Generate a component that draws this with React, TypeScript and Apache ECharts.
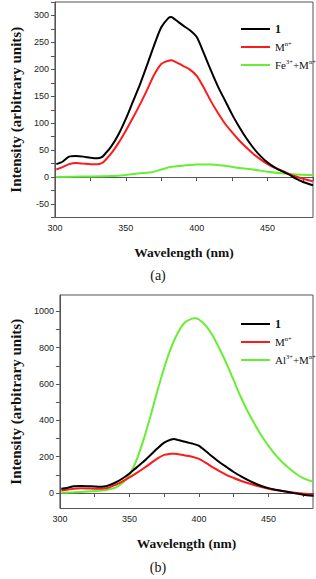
import React, { useEffect, useRef } from "react";
import * as echarts from "echarts";

// Shared wavelength grid (nm) for compound 1 and M^n+ spectra
const wavelength = [301, 305, 310, 315, 320, 325, 330, 333, 335, 340, 345, 350, 355, 360, 365, 370, 375, 380, 382, 385, 390, 395, 400, 405, 410, 415, 420, 425, 430, 435, 440, 445, 450, 455, 460, 465, 470, 475, 482];
const compound1 = [24, 28, 38, 39, 38, 36, 35, 37, 42, 58, 80, 108, 140, 172, 208, 245, 278, 295, 297, 292, 282, 273, 260, 230, 198, 168, 142, 116, 93, 72, 54, 39, 27, 18, 11, 5, -3, -9, -15];
const metalIon = [14, 18, 24, 26, 25, 24, 24, 26, 30, 45, 64, 86, 110, 135, 162, 190, 210, 216, 217, 214, 207, 200, 188, 166, 141, 119, 99, 83, 68, 55, 43, 33, 24, 17, 12, 6, 1, -3, -8];

// Fe3+ + M^n+ spectrum (panel a)
const feWavelength = [301, 320, 340, 350, 360, 368, 375, 382, 390, 400, 410, 420, 430, 440, 450, 460, 470, 482];
const feMix = [0, 1, 2, 4, 7, 9, 14, 19, 21, 23.5, 23.5, 21, 17, 14, 10, 7, 5, 4];

// Al3+ + M^n+ spectrum (panel b)
const alWavelength = [301, 310, 320, 330, 335, 340, 345, 350, 355, 360, 365, 370, 375, 380, 385, 390, 395, 397, 400, 405, 410, 415, 420, 425, 430, 435, 440, 445, 450, 455, 460, 465, 470, 475, 482];
const alMix = [2, 4, 8, 14, 20, 30, 55, 100, 180, 290, 420, 560, 690, 800, 885, 940, 960, 962, 955, 920, 865, 790, 710, 620, 530, 450, 380, 315, 260, 210, 170, 135, 105, 82, 62];

// Tick values for panel b
const bTicks = [0, 100, 200, 300, 400, 500, 600, 700, 800, 900, 1000];
const bLabels = [0, 200, 400, 600, 800, 1000];

const legendA = ["1", "Mn+", "Fe3++Mn+"];
const legendB = ["1", "Mn+", "Al3++Mn+"];
const panelLabels = ["(a)", "(b)"];

const xTitle = "Wavelength (nm)";
const yTitle = "Intensity (arbitrary units)";

const BLACK = "#000000";
const RED = "#ff1a1a";
const GREEN = "#66ee33";
const AXIS = "#555555";
const SERIF = "Liberation Serif";
const SANS = "Liberation Sans";

function pairs(xs: number[], ys: number[]) {
  return xs.map((x, i) => [x, ys[i]]);
}

function legendFormatter(name: string) {
  if (name === "1") return "{b|1}";
  if (name === "Mn+") return "M{s|n+}";
  if (name === "Fe3++Mn+") return "Fe{s|3+}+M{s|n+}";
  if (name === "Al3++Mn+") return "Al{s|3+}+M{s|n+}";
  return name;
}

function xAxisCfg(gridIndex: number) {
  return {
    type: "value",
    gridIndex,
    min: 300,
    max: 482,
    interval: 25,
    axisLine: { show: true, lineStyle: { color: AXIS, width: 1 } },
    axisTick: { show: true, inside: false, length: 4, lineStyle: { color: AXIS } },
    axisLabel: {
      fontSize: 9,
      fontFamily: SANS,
      color: "#222",
      margin: 6,
      formatter: (v: number) => (v % 50 === 0 ? String(v) : ""),
    },
    splitLine: { show: false },
    name: xTitle,
    nameLocation: "middle",
    nameGap: 28,
    nameTextStyle: { fontFamily: SERIF, fontWeight: "bold", fontSize: 13.5, color: "#111" },
  };
}

const yTitleStyle = { fontFamily: SERIF, fontWeight: "bold", fontSize: 15, color: "#111" };

export default function App() {
  const ref = useRef<HTMLDivElement>(null);
  useEffect(() => {
    if (!ref.current) return;
    const chart = echarts.init(ref.current, undefined, { renderer: "svg" });

    const legendCfg = (data: string[], top: number) => ({
      data,
      orient: "vertical",
      left: 236,
      top,
      icon: "rect",
      itemWidth: 29,
      itemHeight: 2,
      itemGap: 4,
      formatter: legendFormatter,
      textStyle: {
        fontFamily: SERIF,
        fontSize: 11,
        color: "#111",
        lineHeight: 14,
        rich: {
          b: { fontFamily: SERIF, fontSize: 12, fontWeight: "bold", color: "#111", lineHeight: 14 },
          s: { fontFamily: SERIF, fontSize: 6.5, color: "#111", verticalAlign: "top", lineHeight: 14 },
        },
      },
    });

    const lineSeries = (name: string, data: number[][], color: string, idx: number) => ({
      type: "line",
      name,
      data,
      xAxisIndex: idx,
      yAxisIndex: idx,
      showSymbol: false,
      smooth: 0.25,
      color,
      lineStyle: { color, width: 2 },
    });

    chart.setOption({
      animation: false,
      backgroundColor: "#ffffff",
      grid: [
        { left: 47, top: 2, width: 266, height: 215.5, show: true, borderColor: AXIS, borderWidth: 1, backgroundColor: "transparent" },
        { left: 47, top: 295, width: 266, height: 213.5, show: true, borderColor: AXIS, borderWidth: 1, backgroundColor: "transparent" },
      ],
      xAxis: [xAxisCfg(0), xAxisCfg(1)],
      yAxis: [
        {
          type: "value",
          gridIndex: 0,
          min: -75,
          max: 325,
          interval: 25,
          axisLine: { show: true, lineStyle: { color: AXIS, width: 1 } },
          axisTick: { show: true, inside: false, length: 4, lineStyle: { color: AXIS } },
          axisLabel: {
            fontSize: 9,
            fontFamily: SANS,
            color: "#222",
            margin: 6,
            formatter: (v: number) => (v % 50 === 0 ? String(v) : ""),
          },
          splitLine: { show: false },
          name: yTitle,
          nameLocation: "middle",
          nameGap: 30,
          nameTextStyle: yTitleStyle,
        },
        {
          type: "value",
          gridIndex: 1,
          min: -85,
          max: 1090,
          axisLine: { show: true, lineStyle: { color: AXIS, width: 1 } },
          axisTick: { show: true, inside: false, length: 4, lineStyle: { color: AXIS }, customValues: bTicks },
          axisLabel: {
            fontSize: 9,
            fontFamily: SANS,
            color: "#222",
            margin: 6,
            customValues: bLabels,
            formatter: (v: number) => String(v),
          },
          splitLine: { show: false },
          name: yTitle,
          nameLocation: "middle",
          nameGap: 30,
          nameTextStyle: yTitleStyle,
        },
      ],
      legend: [legendCfg(legendA, 17), legendCfg(legendB, 312)],
      series: [
        lineSeries("Fe3++Mn+", pairs(feWavelength, feMix), GREEN, 0),
        lineSeries("Mn+", pairs(wavelength, metalIon), RED, 0),
        lineSeries("1", pairs(wavelength, compound1), BLACK, 0),
        lineSeries("Al3++Mn+", pairs(alWavelength, alMix), GREEN, 1),
        lineSeries("Mn+", pairs(wavelength, metalIon), RED, 1),
        lineSeries("1", pairs(wavelength, compound1), BLACK, 1),
      ],
      graphic: [
        { type: "text", left: "center", top: 268, style: { text: panelLabels[0], font: `14px ${SERIF}`, fill: "#111" } },
        { type: "text", left: "center", top: 560, style: { text: panelLabels[1], font: `14px ${SERIF}`, fill: "#111" } },
      ],
    });
    return () => chart.dispose();
  }, []);
  return <div ref={ref} style={{ position: "absolute", left: 0, top: 0, width: 316, height: 579 }} />;
}
